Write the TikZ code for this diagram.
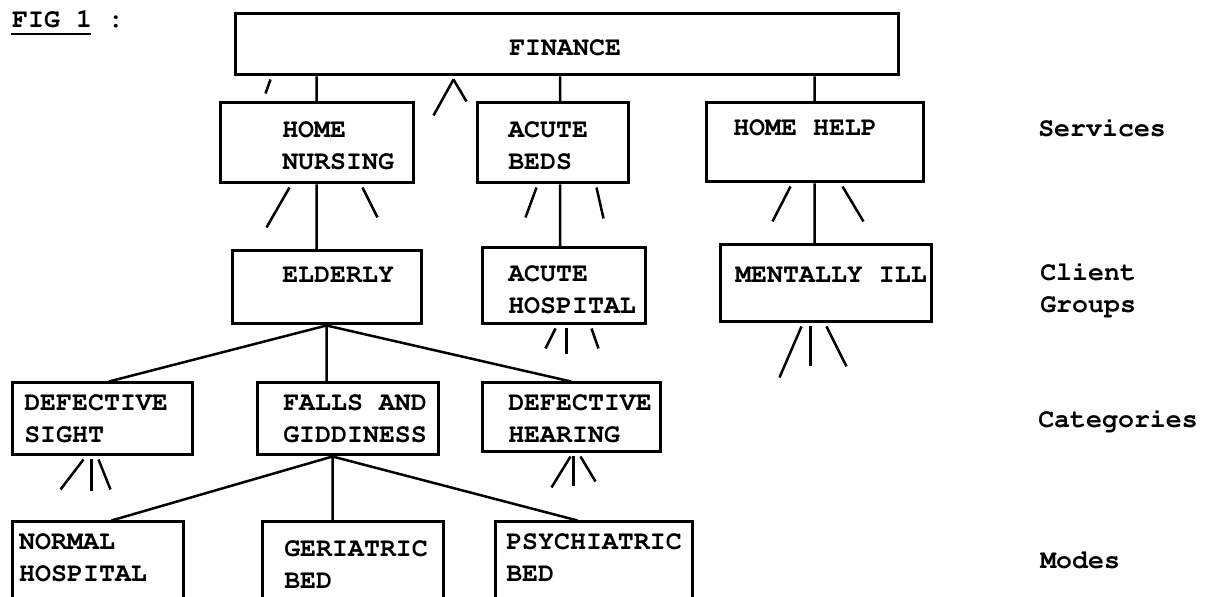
\documentclass[tikz,border=0pt]{standalone}
\usepackage[T1]{fontenc}
\usepackage{courier}
\usepackage{tikz}
\usetikzlibrary{fit}

\begin{document}
\begin{tikzpicture}[x=0.5pt,y=-0.5pt,line width=1.25pt,
  box/.style={draw,line width=1.5pt,inner sep=0pt},
  txt/.style={anchor=west,align=left,inner sep=0pt,font=\ttfamily\bfseries\fontsize{13.3}{16}\selectfont},
  lvl/.style={txt}]
 \useasboundingbox (0,0) rectangle (1207,597);
 \clip (0,0) rectangle (1207,597);
 % boxes
 \node[box,fit={(235,14) (898,75)}] (fin) {};
 \node[box,fit={(220,103) (413,183)}] (hn) {};
 \node[box,fit={(477,103) (628,183)}] (ab) {};
 \node[box,fit={(706,103) (923,182)}] (hh) {};
 \node[box,fit={(232,251) (421,324)}] (eld) {};
 \node[box,fit={(482,248) (645,324)}] (ah) {};
 \node[box,fit={(720,245) (931,322)}] (mi) {};
 \node[box,fit={(12,383) (192,455)}] (ds) {};
 \node[box,fit={(257,383) (438,455)}] (fg) {};
 \node[box,fit={(482,383) (660,452)}] (dh) {};
 \node[box,fit={(12,522) (183,625)}] (nh) {};
 \node[box,fit={(262,522) (443,625)}] (gb) {};
 \node[box,fit={(495,522) (692,625)}] (pb) {};
 % texts
 \node[txt] (finT) at (508,48) {FINANCE};
 \node[txt] (hnT) at (281,146) {HOME\\NURSING};
 \node[txt] (abT) at (507,146) {ACUTE\\BEDS};
 \node[txt] (hhT) at (732,128) {HOME HELP};
 \node[txt] (eldT) at (281,275) {ELDERLY};
 \node[txt] (ahT) at (507,290) {ACUTE\\HOSPITAL};
 \node[txt] (miT) at (734,275) {MENTALLY ILL};
 \node[txt] (dsT) at (23,419) {DEFECTIVE\\SIGHT};
 \node[txt] (fgT) at (282,419) {FALLS AND\\GIDDINESS};
 \node[txt] (dhT) at (507,419) {DEFECTIVE\\HEARING};
 \node[txt] (nhT) at (18,558) {NORMAL\\HOSPITAL};
 \node[txt] (gbT) at (283,565) {GERIATRIC\\BED};
 \node[txt] (pbT) at (505,558) {PSYCHIATRIC\\BED};
 \node[txt] (fig) at (11,19) {FIG 1 :};
 \draw[line width=1.2pt] (fig.west) ++(0,15) -- ++(80,0);
 % levels
 \node[lvl] (svc) at (1037,128) {Services};
 \node[lvl] (cli) at (1039,289) {Client\\Groups};
 \node[lvl] (cat) at (1037,420) {Categories};
 \node[lvl] (mod) at (1039,560) {Modes};
 % connectors
 \coordinate (abn) at ([xshift=3.75pt]ab.north);
 \coordinate (abs) at ([xshift=3.75pt]ab.south);
 \coordinate (fgs) at ([xshift=-7.5pt]fg.south);
 \coordinate (dsn) at ([xshift=3.5pt]ds.north);
 \coordinate (nhn) at ([xshift=7pt]nh.north);
 \coordinate (pbn) at ([xshift=-8pt]pb.north);
 \draw (hn.north) -- (hn.north |- fin.south)
       (abn) -- (abn |- fin.south)
       (hh.north) -- (hh.north |- fin.south)
       (hn.south) -- (hn.south |- eld.north)
       (abs) -- (abs |- ah.north)
       (hh.south) -- (hh.south |- mi.north)
       (eld.south) -- (dsn)
       (eld.south) -- (eld.south |- fg.north)
       (eld.south) -- (dh.north)
       (fgs) -- (nhn)
       (fgs) -- (fgs |- gb.north)
       (fgs) -- (pbn);
 % short strokes under the boxes
 \foreach \n/\a/\b/\c in {fin/37/-5/14, fin/220/-20/36, fin/220/13/22,
   hn/71/-23/40, hn/144/15/30, ab/61/-11/30, ab/121/7/31,
   hh/86/-18/35, hh/138/21/35, ah/75/-10/20, ah/86/0/26, ah/111/7/20,
   mi/83/-22/51, mi/92/0/40, mi/108/20/40, ds/73/-23/30, ds/81/0/32,
   ds/88/12/30, dh/90/-19/31, dh/93/0/30, dh/100/15/25}
   \draw (\n.south west) ++(\a,3) -- ++(\b,\c);
\end{tikzpicture}
\end{document}
